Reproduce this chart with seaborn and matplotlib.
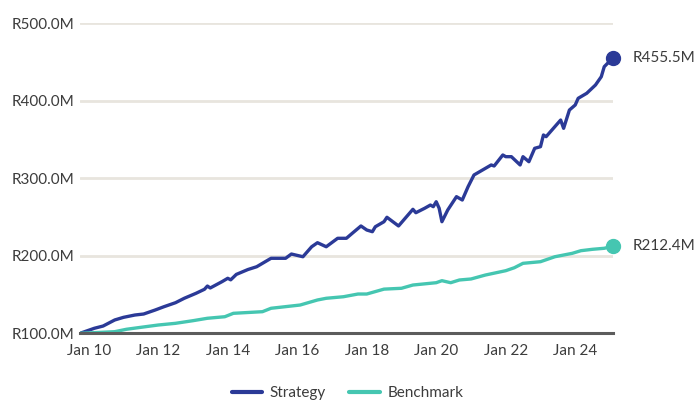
import matplotlib
matplotlib.use("Agg")
import matplotlib.pyplot as plt
import matplotlib.dates as mdates
from matplotlib.ticker import FuncFormatter
import seaborn as sns
import pandas as pd

# --- Data (R millions)
strategy_dates = [
    "2009-10", "2010-03", "2010-06", "2010-10", "2011-01", "2011-05", "2011-08", "2011-12",
    "2012-03", "2012-07", "2012-10", "2013-02", "2013-05", "2013-06", "2013-07", "2013-11",
    "2014-01", "2014-02", "2014-04", "2014-08", "2014-11", "2015-04", "2015-09", "2015-11",
    "2016-03", "2016-06", "2016-08", "2016-11", "2017-03", "2017-06", "2017-08", "2017-11",
    "2018-01", "2018-03", "2018-04", "2018-07", "2018-08", "2018-12", "2019-05", "2019-06",
    "2019-09", "2019-11", "2019-12", "2020-01", "2020-02", "2020-03", "2020-05", "2020-08",
    "2020-10", "2020-12", "2021-02", "2021-04", "2021-08", "2021-09", "2021-12", "2022-01",
    "2022-03", "2022-06", "2022-07", "2022-09", "2022-11", "2023-01", "2023-02", "2023-03",
    "2023-05", "2023-08", "2023-09", "2023-11", "2024-01", "2024-02", "2024-05", "2024-08",
    "2024-10", "2024-11", "2025-02",
]
strategy_values = [
    100.0, 106.5, 109.4, 117.2, 120.6, 123.6, 124.9, 130.1,
    134.3, 139.5, 145.2, 151.6, 156.8, 161.0, 158.5, 166.6,
    171.0, 169.0, 176.0, 182.3, 185.9, 196.8, 196.8, 202.3,
    198.8, 211.7, 216.9, 211.7, 222.6, 222.6, 229.0, 238.5,
    233.3, 231.1, 237.5, 244.0, 249.7, 238.5, 260.0, 255.6,
    261.3, 265.5, 263.4, 269.8, 261.3, 244.0, 259.1, 276.3,
    272.0, 289.2, 304.3, 308.5, 317.2, 315.9, 330.1, 327.9,
    327.9, 317.2, 327.9, 321.4, 338.7, 340.8, 355.9, 353.7,
    362.3, 375.2, 364.5, 388.1, 394.6, 403.2, 409.7, 420.4,
    431.1, 444.0, 455.5,
]

benchmark_dates = [
    "2009-10", "2010-10", "2011-02", "2011-07", "2012-01", "2012-07", "2013-01", "2013-06",
    "2013-12", "2014-03", "2015-01", "2015-04", "2016-02", "2016-08", "2016-11", "2017-05",
    "2017-10", "2018-01", "2018-07", "2019-01", "2019-05", "2020-01", "2020-03", "2020-06",
    "2020-09", "2021-01", "2021-06", "2022-01", "2022-04", "2022-07", "2023-01", "2023-06",
    "2023-12", "2024-03", "2024-07", "2024-11", "2025-02",
]
benchmark_values = [
    100.0, 102.1, 105.2, 107.7, 110.7, 112.9, 116.3, 119.4,
    121.4, 125.8, 127.9, 132.3, 136.5, 143.0, 145.2, 147.2,
    150.7, 150.7, 157.0, 158.1, 162.3, 165.3, 167.9, 165.3,
    168.8, 170.1, 175.2, 180.8, 184.6, 190.3, 192.4, 198.8,
    203.2, 206.6, 208.4, 209.7, 212.4,
]

series_names = ["Strategy", "Benchmark"]
series_colors = ["#2B3A97", "#45C6B1"]
y_ticks = [100, 200, 300, 400, 500]

df = pd.concat([
    pd.DataFrame({"Date": pd.to_datetime(strategy_dates), "Value": strategy_values,
                  "Series": "Strategy"}),
    pd.DataFrame({"Date": pd.to_datetime(benchmark_dates), "Value": benchmark_values,
                  "Series": "Benchmark"}),
], ignore_index=True)

# --- Plot
sns.set_style("white")
plt.rcParams['font.family'] = ['Lato', 'DejaVu Sans']
TEXT_COLOR = "#3c3c3c"

fig = plt.figure(figsize=(6.95, 4.01), dpi=100)
ax = fig.add_axes([0.1151, 0.1688, 0.7669, 0.7731])

palette = dict(zip(series_names, series_colors))
sns.lineplot(data=df, x="Date", y="Value", hue="Series", hue_order=series_names,
             palette=palette, linewidth=2.4, ax=ax, legend=True)

# end markers + labels
for name in series_names:
    last = df[df["Series"] == name].iloc[-1]
    ax.plot(last["Date"], last["Value"], "o", color=palette[name], markersize=10,
            clip_on=False, zorder=5)
    ax.annotate(f"R{last['Value']:.1f}M", (last["Date"], last["Value"]),
                xytext=(14, 0), textcoords="offset points", va="center", ha="left",
                fontsize=11, color=TEXT_COLOR, annotation_clip=False)

#  Axes
ax.set_xlim(df["Date"].min(), df["Date"].max())
ax.set_ylim(100, 500)
ax.set_yticks(y_ticks)
ax.yaxis.set_major_formatter(FuncFormatter(lambda v, p: f"R{v:.1f}M"))
ax.yaxis.grid(True, color="#E8E5DE", linewidth=2)
ax.xaxis.grid(False)
ax.tick_params(axis="y", length=0, pad=4, labelsize=11, labelcolor=TEXT_COLOR)

ax.xaxis.set_major_locator(mdates.YearLocator(1))
ax.xaxis.set_major_formatter(FuncFormatter(
    lambda v, p: mdates.num2date(v).strftime("Jan %y") if mdates.num2date(v).year % 2 == 0 else ""))
ax.tick_params(axis="x", length=5, width=1, color="#777777", pad=3,
               labelsize=11, labelcolor=TEXT_COLOR)

for s in ["left", "top", "right"]:
    ax.spines[s].set_visible(False)
ax.spines["bottom"].set_color("#5c5c5c")
ax.spines["bottom"].set_linewidth(2.2)
ax.spines["bottom"].set_zorder(6)

ax.set_xlabel("")
ax.set_ylabel("")

# Legend at bottom centre
handles, labels = ax.get_legend_handles_labels()
ax.get_legend().remove()
leg = fig.legend(handles[:2], labels[:2], loc="center", bbox_to_anchor=(0.5, 8 / 401),
                 ncol=2, frameon=False, fontsize=11, handlelength=2.0, columnspacing=1.5,
                 handletextpad=0.5)
for line in leg.get_lines():
    line.set_linewidth(3)
for t in leg.get_texts():
    t.set_color(TEXT_COLOR)

plt.savefig("out.png", dpi=100)
plt.close()
